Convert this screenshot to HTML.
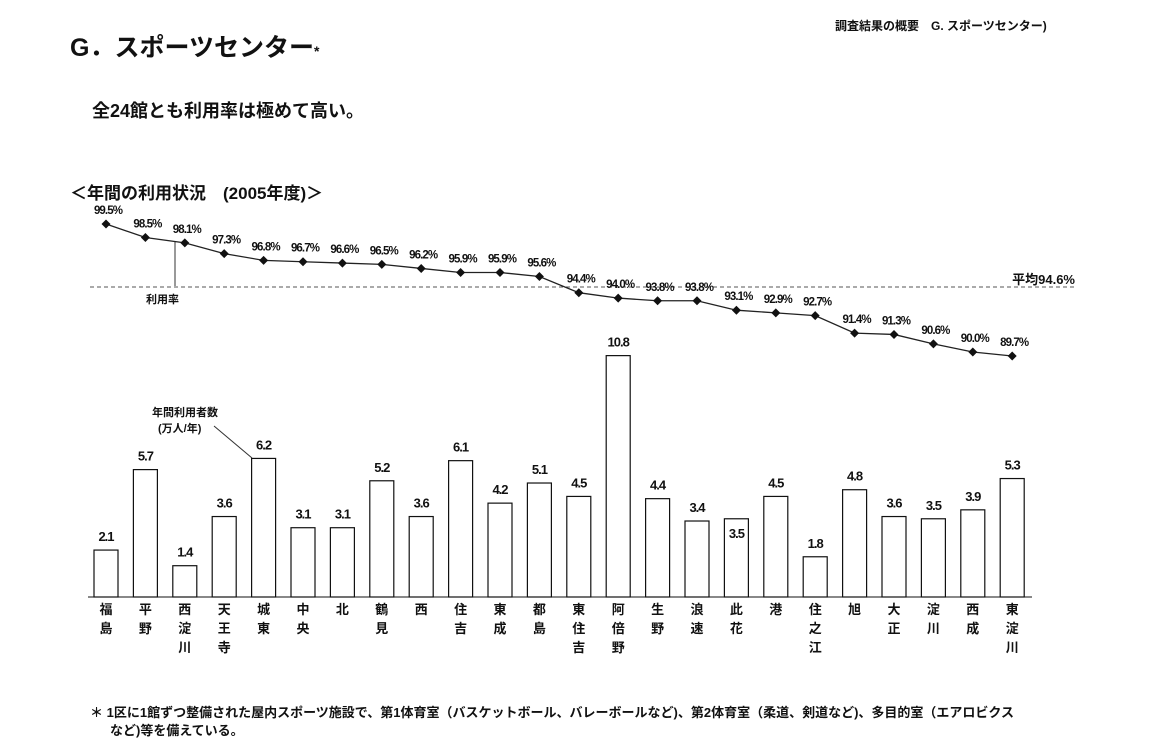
<!DOCTYPE html>
<html><head><meta charset="utf-8"><style>
body{margin:0;background:#fff;width:1149px;height:739px;overflow:hidden;font-family:"Liberation Sans","Noto Sans CJK JP",sans-serif;color:#111}
svg text{font-family:"Liberation Sans","Noto Sans CJK JP",sans-serif;fill:#111}
</style></head><body>
<svg width="1149" height="739">
<text x="70" y="56" font-size="25" font-weight="bold">G．スポーツセンター<tspan font-size="14">*</tspan></text>
<text x="835" y="30" font-size="12" font-weight="bold">調査結果の概要　G. スポーツセンター)</text>
<text x="92" y="117" font-size="18" font-weight="bold">全24館とも利用率は極めて高い。</text>
<text x="70" y="199" font-size="17" font-weight="bold">＜年間の利用状況　(2005年度)＞</text>
<line x1="90" y1="287" x2="1075" y2="287" stroke="#555" stroke-dasharray="4,3"/>
<text x="1075" y="284" font-size="13" font-weight="bold" text-anchor="end">平均94.6%</text>
<line x1="175" y1="242" x2="175" y2="286" stroke="#333"/>
<text x="146" y="303" font-size="11" font-weight="bold">利用率</text>
<text x="152" y="416" font-size="11" font-weight="bold">年間利用者数</text>
<text x="158" y="432" font-size="11" font-weight="bold">(万人/年)</text>
<line x1="214" y1="426" x2="252" y2="458" stroke="#333"/>
<line x1="88" y1="597" x2="1032" y2="597" stroke="#111"/>
<g id="g"></g>
<text x="90" y="717" font-size="13" font-weight="bold">＊ 1区に1館ずつ整備された屋内スポーツ施設で、第1体育室（バスケットボール、バレーボールなど)、第2体育室（柔道、剣道など)、多目的室（エアロビクス</text>
<text x="110" y="735" font-size="13" font-weight="bold">など)等を備えている。</text>
</svg>
<script>
const categories=["福島","平野","西淀川","天王寺","城東","中央","北","鶴見","西","住吉","東成","都島","東住吉","阿倍野","生野","浪速","此花","港","住之江","旭","大正","淀川","西成","東淀川"];
const visitors=[2.1,5.7,1.4,3.6,6.2,3.1,3.1,5.2,3.6,6.1,4.2,5.1,4.5,10.8,4.4,3.4,3.5,4.5,1.8,4.8,3.6,3.5,3.9,5.3];
const rates=[99.5,98.5,98.1,97.3,96.8,96.7,96.6,96.5,96.2,95.9,95.9,95.6,94.4,94.0,93.8,93.8,93.1,92.9,92.7,91.4,91.3,90.6,90.0,89.7];
const NS="http://www.w3.org/2000/svg",g=document.getElementById('g');
const xc=i=>106+i*39.4;
const yb=v=>597-v*22.35;
const yr=v=>224+(99.5-v)*13.47;
function mk(t,a){const e=document.createElementNS(NS,t);for(const k in a)e.setAttribute(k,a[k]);g.appendChild(e);return e;}
let pts=rates.map((r,i)=>xc(i)+","+yr(r)).join(" ");
const pl=mk('polyline',{points:pts,fill:"none",stroke:"#222","stroke-width":1.3});


categories.forEach((c,i)=>{
 const x=xc(i),v=visitors[i];
 const b=mk('rect',{x:x-12,y:yb(v),width:24,height:597-yb(v),fill:"#fff",stroke:"#111","stroke-width":1.2});
 
 
 const inside=(i===16);
 const t=mk('text',{x:x,y:inside?yb(v)+19:yb(v)-9,"font-size":13,"font-weight":"bold","text-anchor":"middle","letter-spacing":"-1"});
 t.textContent=v.toFixed(1);
 
 
 [...c].forEach((ch,k)=>{
  const l=mk('text',{x:x,y:614+k*19,"font-size":13,"font-weight":"bold","text-anchor":"middle"});
  l.textContent=ch;
  
  
 });
 const y=yr(rates[i]);
 const d=mk('polygon',{points:`${x},${y-4.5} ${x+4.5},${y} ${x},${y+4.5} ${x-4.5},${y}`,fill:"#111"});
 
 
 const rl=mk('text',{x:x+2,y:y-10,"font-size":11.5,"font-weight":"bold","text-anchor":"middle","letter-spacing":"-0.9"});
 rl.textContent=rates[i].toFixed(1)+"%";
 
 
});
</script>
</body></html>
